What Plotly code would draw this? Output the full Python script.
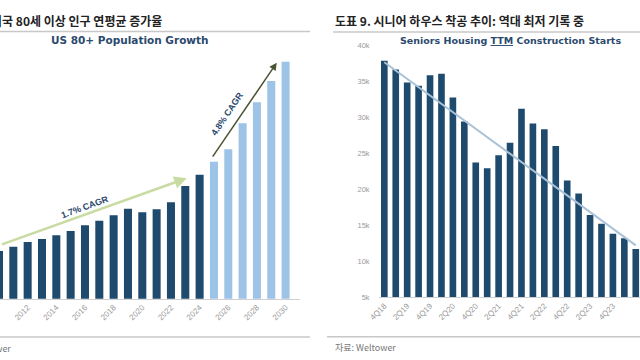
import plotly.graph_objects as go

# ---------------- data ----------------
years = list(range(2010, 2031))
pop_80plus = [11.41, 11.58, 11.77, 11.89, 12.04, 12.21, 12.44, 12.62, 12.84, 13.10,
              12.96, 13.08, 13.36, 14.01, 14.46, 14.98, 15.48, 16.52, 17.36, 18.21, 18.98]
last_actual_year = 2024

quarters = ["4Q18", "1Q19", "2Q19", "3Q19", "4Q19", "1Q20", "2Q20", "3Q20", "4Q20",
            "1Q21", "2Q21", "3Q21", "4Q21", "1Q22", "2Q22", "3Q22", "4Q22",
            "1Q23", "2Q23", "3Q23", "4Q23", "1Q24", "2Q24"]
starts_k = [37.8, 36.6, 34.8, 34.35, 35.8, 36.0, 32.7, 29.4, 23.7, 22.9, 24.7, 26.45,
            31.15, 29.1, 28.3, 26.0, 21.2, 19.4, 16.4, 15.2, 13.8, 13.2, 11.7]
trend_k = [37.6, 12.2]
y_ticks_k = [5, 10, 15, 20, 25, 30, 35, 40]

W, H = 640, 360
def px(x):
    return x / W
def py(y):
    return 1 - y / H

NAVY = "#1e4a6e"
LIGHT = "#9dc3e6"
GREY_TXT = "#9a9a9a"
RULE = "#c8c8c8"

fig = go.Figure()

# ---------------- left chart ----------------
colors_left = [NAVY if y <= last_actual_year else LIGHT for y in years]
fig.add_trace(go.Bar(x=years, y=pop_80plus, marker_color=colors_left, marker_line_width=0,
                     width=0.56, xaxis="x", yaxis="y", showlegend=False, hoverinfo="x+y"))

# ---------------- right chart ----------------
idx = list(range(len(quarters)))
fig.add_trace(go.Bar(x=idx, y=starts_k, marker_color=NAVY, marker_line_width=0, width=0.58,
                     xaxis="x2", yaxis="y2", showlegend=False,
                     customdata=quarters, hovertemplate="%{customdata}: %{y}k<extra></extra>"))
fig.add_trace(go.Scatter(x=[idx[0], idx[-1]], y=trend_k, mode="lines",
                         line=dict(color="#a9c2d8", width=2),
                         xaxis="x2", yaxis="y2", showlegend=False, hoverinfo="skip"))

# left axes geometry
left_px_per_year = 14.33
left_x0 = 2010 + 1 / left_px_per_year
left_w = 300
left_base, left_top = 298.7, 55
left_px_per_unit = 25.0
y_min_left = 9.5
y_max_left = y_min_left + (left_base - left_top) / left_px_per_unit

# right axes geometry
r_left = 378.6
r_step = 11.43
r_range_max = -0.5 + (W - r_left) / r_step

fig.update_layout(
    template="none",
    width=W, height=H, autosize=False,
    margin=dict(l=0, r=0, t=0, b=0, pad=0),
    paper_bgcolor="white", plot_bgcolor="white",
    font=dict(family="Liberation Sans, Arial, sans-serif"),
    xaxis=dict(domain=[0, px(left_w)], range=[left_x0, left_x0 + left_w / left_px_per_year],
               tickvals=years[::2], ticktext=[str(y) for y in years[::2]],
               tickangle=-45, tickfont=dict(size=8, color=GREY_TXT),
               showline=True, linecolor="#d0d0d0", linewidth=1, automargin=False,
               showgrid=False, zeroline=False, ticks=""),
    yaxis=dict(domain=[py(left_base), py(left_top)], range=[y_min_left, y_max_left],
               visible=False, automargin=False),
    xaxis2=dict(domain=[px(r_left), 1], range=[-0.5, r_range_max],
                tickvals=idx[::2], ticktext=quarters[::2],
                tickangle=-45, tickfont=dict(size=8, color=GREY_TXT),
                showline=True, linecolor="#d0d0d0", linewidth=1, automargin=False,
                showgrid=False, zeroline=False, ticks="", anchor="y2"),
    yaxis2=dict(domain=[py(297.3), py(45)], range=[5, 40],
                tickvals=y_ticks_k, ticktext=[f"{v}k" for v in y_ticks_k],
                tickfont=dict(size=7.5, color=GREY_TXT), ticklabelstandoff=8, automargin=False,
                showgrid=False, zeroline=False, showline=False, ticks="", anchor="x2"),
)

annotations = []
# Korean titles
annotations.append(dict(xref="paper", yref="paper", x=px(-11), y=py(20), xanchor="left", yanchor="middle",
                        text="<b>미국 80세 이상 인구 연평균 증가율</b>", showarrow=False,
                        font=dict(family="Noto Sans CJK KR", size=12, color="#222222")))
annotations.append(dict(xref="paper", yref="paper", x=px(333), y=py(20), xanchor="left", yanchor="middle",
                        text="<b>도표 9. 시니어 하우스 착공 추이: 역대 최저 기록 중</b>", showarrow=False,
                        font=dict(family="Noto Sans CJK KR", size=12, color="#222222")))
# subtitles
annotations.append(dict(xref="paper", yref="paper", x=px(130), y=py(40), xanchor="center", yanchor="middle",
                        text="<b>US 80+ Population Growth</b>", showarrow=False,
                        font=dict(family="DejaVu Sans", size=10.5, color="#2c4a6e")))
annotations.append(dict(xref="paper", yref="paper", x=px(510), y=py(40), xanchor="center", yanchor="middle",
                        text="<b>Seniors Housing <u>TTM</u> Construction Starts</b>", showarrow=False,
                        font=dict(family="DejaVu Sans", size=9.5, color="#2c4a6e")))
# sources
annotations.append(dict(xref="paper", yref="paper", x=px(13), y=py(348), xanchor="right", yanchor="middle",
                        text="자료: Weltower", showarrow=False,
                        font=dict(family="Noto Sans CJK KR", size=9, color="#777777")))
annotations.append(dict(xref="paper", yref="paper", x=px(333), y=py(347), xanchor="left", yanchor="middle",
                        text="자료: Weltower", showarrow=False,
                        font=dict(family="Noto Sans CJK KR", size=9, color="#777777")))

# CAGR arrows (left chart, data coordinates)
annotations.append(dict(xref="x", yref="y", axref="x", ayref="y",
                        x=2023.1, y=14.32, ax=2010.1, ay=11.65, text="", showarrow=True,
                        arrowhead=2, arrowsize=1, arrowwidth=2.5, arrowcolor="#c8dba2", standoff=0))
annotations.append(dict(xref="x", yref="y", x=2016.0, y=13.15, text="<b>1.7% CAGR</b>", showarrow=False,
                        textangle=-20, font=dict(family="Liberation Sans", size=9, color="#2c4a6e")))
annotations.append(dict(xref="x", yref="y", axref="x", ayref="y",
                        x=2029.38, y=18.94, ax=2024.84, ay=15.12, text="", showarrow=True,
                        arrowhead=2, arrowsize=1, arrowwidth=1.5, arrowcolor="#4b5535", standoff=0))
annotations.append(dict(xref="x", yref="y", x=2025.9, y=16.9, text="<b>4.8% CAGR</b>", showarrow=False,
                        textangle=-56, font=dict(family="Liberation Sans", size=9, color="#2c4a6e")))

shapes = [
    dict(type="line", xref="paper", yref="paper", x0=px(0), x1=px(310), y0=py(31.5), y1=py(31.5),
         line=dict(color=RULE, width=1.5)),
    dict(type="line", xref="paper", yref="paper", x0=px(333), x1=px(640), y0=py(32), y1=py(32),
         line=dict(color=RULE, width=1.5)),
    dict(type="line", xref="paper", yref="paper", x0=px(0), x1=px(310), y0=py(337), y1=py(337),
         line=dict(color=RULE, width=1.5)),
    dict(type="line", xref="paper", yref="paper", x0=px(327), x1=px(640), y0=py(336.7), y1=py(336.7),
         line=dict(color=RULE, width=1.5)),
]
fig.update_layout(annotations=annotations, shapes=shapes)

fig.write_html("out.html", config={"displayModeBar": False},
               post_script="document.body.style.margin='0';document.body.style.overflow='hidden';")
